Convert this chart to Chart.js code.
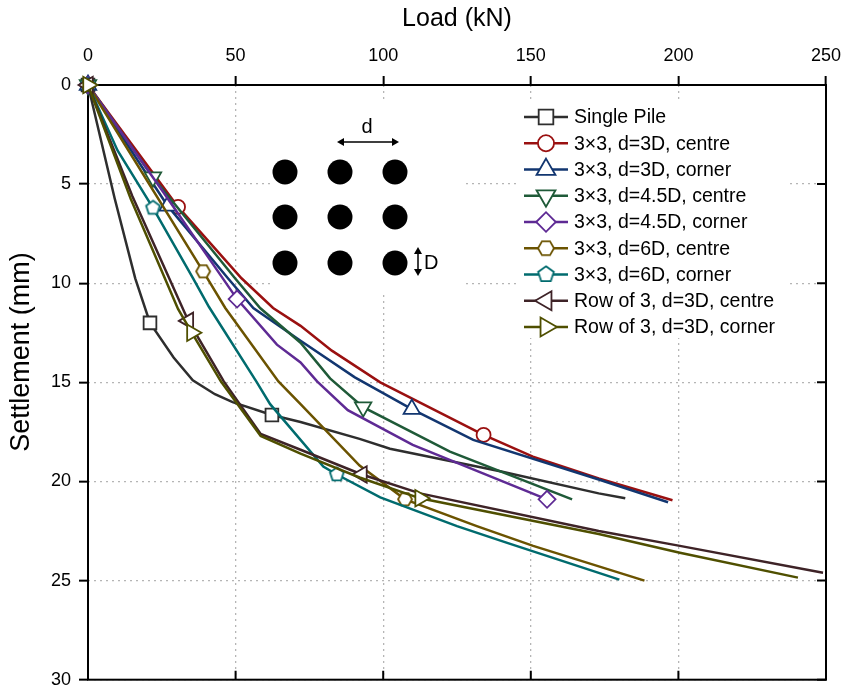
<!DOCTYPE html>
<html>
<head>
<meta charset="utf-8">
<script src="https://cdn.jsdelivr.net/npm/chart.js@4.4.1/dist/chart.umd.min.js"></script>
<style>
  html, body { margin: 0; padding: 0; background: #fff; }
</style>
</head>
<body>
<canvas id="chart" width="849" height="691"></canvas>
<script>
// axis ticks
const loadTicks = [0, 50, 100, 150, 200, 250];
const settleTicks = [0, 5, 10, 15, 20, 25, 30];

const seriesNames = [
  'Single Pile',
  '3×3, d=3D, centre',
  '3×3, d=3D, corner',
  '3×3, d=4.5D, centre',
  '3×3, d=4.5D, corner',
  '3×3, d=6D, centre',
  '3×3, d=6D, corner',
  'Row of 3, d=3D, centre',
  'Row of 3, d=3D, corner'
];

// load (kN) / settlement (mm)
const singleLoad   = [0, 9, 16, 21, 29, 35.5, 43, 49, 62.3, 72, 92, 102.3, 140, 173, 182];
const singleSettle = [0, 5.7, 9.75, 12, 13.75, 14.9, 15.6, 16, 16.65, 17, 17.85, 18.35, 19.5, 20.6, 20.85];

const d3CentreLoad   = [0, 30.5, 52, 62.7, 72, 82.6, 99, 134, 150.7, 173, 198];
const d3CentreSettle = [0, 6.15, 9.75, 11.25, 12.15, 13.4, 15, 17.65, 18.75, 19.85, 20.95];

const d3CornerLoad   = [0, 27, 47.4, 56, 72, 90.4, 109.7, 130.5, 173, 196.5];
const d3CornerSettle = [0, 6.1, 9.75, 11.25, 12.9, 14.75, 16.35, 17.9, 19.9, 21.05];

const d45CentreLoad   = [0, 22, 49.8, 58.3, 72, 82, 93.2, 122.6, 164];
const d45CentreSettle = [0, 4.65, 9.75, 11.25, 13.0, 14.8, 16.25, 18.5, 20.9];

const d45CornerLoad   = [0, 25, 50.5, 64, 72, 77.6, 88, 110, 134, 155.5];
const d45CornerSettle = [0, 5.3, 10.8, 13.1, 14.0, 14.95, 16.4, 18.15, 19.6, 20.9];

const d6CentreLoad   = [0, 39, 46.5, 64.5, 72, 92, 107.4, 131.7, 150.8, 188.5];
const d6CentreSettle = [0, 9.4, 11.25, 14.95, 16.1, 19.2, 20.9, 22.25, 23.25, 25];

const d6CornerLoad   = [0, 10, 22, 35.6, 41, 57, 61.7, 79.7, 84.3, 99, 125, 142, 180];
const d6CornerSettle = [0, 3.3, 6.2, 9.75, 11.2, 14.95, 16.1, 19.25, 19.65, 20.8, 22.25, 23.1, 24.95];

const rowCentreLoad   = [0, 15, 34, 46, 58.5, 72, 92.8, 112.5, 173, 200.5, 249];
const rowCentreSettle = [0, 5.6, 11.9, 14.95, 17.6, 18.4, 19.65, 20.6, 22.5, 23.25, 24.6];

const rowCornerLoad   = [0, 14.5, 30.5, 35.2, 45, 58.5, 72, 92, 112.5, 173, 200.5, 240.5];
const rowCornerSettle = [0, 5.75, 11.3, 12.5, 14.95, 17.7, 18.6, 19.8, 20.85, 22.65, 23.6, 24.85];

// which points carry a symbol
const markerIdx = [
  [0, 3, 8], [0, 1, 7], [0, 1, 6], [0, 1, 6], [0, 2, 9],
  [0, 1, 6], [0, 2, 8], [0, 2, 6], [0, 3, 8]
];

const loads = [singleLoad, d3CentreLoad, d3CornerLoad, d45CentreLoad, d45CornerLoad,
               d6CentreLoad, d6CornerLoad, rowCentreLoad, rowCornerLoad];
const settles = [singleSettle, d3CentreSettle, d3CornerSettle, d45CentreSettle, d45CornerSettle,
                 d6CentreSettle, d6CornerSettle, rowCentreSettle, rowCornerSettle];

const FONT = "'Liberation Sans', Arial, sans-serif";

function polyMarker(sides, r, color, rot) {
  const c = document.createElement('canvas');
  const s = Math.ceil(r * 2 + 4);
  c.width = c.height = s;
  const g = c.getContext('2d');
  g.beginPath();
  for (let i = 0; i < sides; i++) {
    const t = rot + i * 2 * Math.PI / sides;
    const px = s / 2 + r * Math.cos(t), py = s / 2 + r * Math.sin(t);
    if (i) g.lineTo(px, py); else g.moveTo(px, py);
  }
  g.closePath();
  g.fillStyle = '#fff';
  g.fill();
  g.lineWidth = 1.8;
  g.strokeStyle = color;
  g.stroke();
  return c;
}

const styles = [
  { color: '#2e2e2e', point: 'rect', rot: 0, r: 9 },
  { color: '#9a1010', point: 'circle', rot: 0, r: 7 },
  { color: '#123670', point: 'triangle', rot: 0, r: 9.5 },
  { color: '#1f5a38', point: 'triangle', rot: 180, r: 9.5 },
  { color: '#5e2a94', point: 'rectRot', rot: 0, r: 8.5 },
  { color: '#6b5300', point: null, rot: 0, r: 7 },
  { color: '#006b6e', point: null, rot: 0, r: 7 },
  { color: '#3e2327', point: 'triangle', rot: 270, r: 9.5 },
  { color: '#4f4f00', point: 'triangle', rot: 90, r: 9.5 }
];
styles[5].point = polyMarker(6, 7, styles[5].color, 0);
styles[6].point = polyMarker(5, 7.2, styles[6].color, -Math.PI / 2);
// legend symbols are drawn a bit larger
const legendHex = polyMarker(6, 8, styles[5].color, 0);
const legendPent = polyMarker(5, 8.2, styles[6].color, -Math.PI / 2);

const datasets = seriesNames.map((name, i) => ({
  label: name,
  data: loads[i].map((l, k) => ({ x: l, y: settles[i][k] })),
  borderColor: styles[i].color,
  borderWidth: 2.5,
  tension: 0,
  fill: false,
  clip: false,
  order: seriesNames.length - i,
  pointStyle: styles[i].point,
  rotation: styles[i].rot,
  pointRadius: ctx => markerIdx[i].includes(ctx.dataIndex) ? styles[i].r : 0,
  pointBackgroundColor: '#fff',
  pointBorderColor: styles[i].color,
  pointBorderWidth: 1.8
}));

const overlay = {
  id: 'overlay',
  beforeDatasetsDraw(chart) {
    const { ctx, chartArea: a, scales: { x, y } } = chart;
    ctx.save();

    // y axis title (sits above the axis centre in the original)
    ctx.save();
    ctx.translate(22, 352);
    ctx.rotate(-Math.PI / 2);
    ctx.font = '27px ' + FONT;
    ctx.fillStyle = '#000';
    ctx.textAlign = 'center';
    ctx.textBaseline = 'middle';
    ctx.fillText('Settlement (mm)', 0, 0);
    ctx.restore();

    // pile group sketch
    ctx.fillStyle = '#fff';
    ctx.fillRect(270, 103, 195, 189);
    ctx.fillStyle = '#000';
    [285, 340, 395].forEach(cx => {
      [172, 217, 263].forEach(cy => {
        ctx.beginPath();
        ctx.arc(cx, cy, 12.5, 0, Math.PI * 2);
        ctx.fill();
      });
    });
    ctx.strokeStyle = '#000';
    ctx.lineWidth = 1.5;
    ctx.beginPath();
    ctx.moveTo(343, 142); ctx.lineTo(393, 142);
    ctx.moveTo(418, 253); ctx.lineTo(418, 270);
    ctx.stroke();
    const head = (x0, y0, dx, dy) => {
      ctx.beginPath();
      ctx.moveTo(x0, y0);
      ctx.lineTo(x0 - dx * 7 - dy * 4, y0 - dy * 7 - dx * 4);
      ctx.lineTo(x0 - dx * 7 + dy * 4, y0 - dy * 7 + dx * 4);
      ctx.closePath();
      ctx.fill();
    };
    head(337, 142, -1, 0); head(399, 142, 1, 0);
    head(418, 247, 0, -1); head(418, 276, 0, 1);
    ctx.font = '20px ' + FONT;
    ctx.textBaseline = 'middle';
    ctx.textAlign = 'center';
    ctx.fillText('d', 367, 127);
    ctx.textAlign = 'left';
    ctx.fillText('D', 424, 263);

    // legend
    ctx.fillStyle = '#fff';
    ctx.fillRect(520, 103, 266, 235);
    ctx.font = '19.5px ' + FONT;
    seriesNames.forEach((name, i) => {
      const ly = 117 + i * 26.25;
      const st = styles[i];
      ctx.strokeStyle = st.color;
      ctx.lineWidth = 2.5;
      ctx.beginPath();
      ctx.moveTo(524, ly); ctx.lineTo(568, ly);
      ctx.stroke();
      ctx.fillStyle = '#fff';
      ctx.lineWidth = 1.8;
      let ps = st.point;
      if (i === 5) ps = legendHex;
      if (i === 6) ps = legendPent;
      Chart.helpers.drawPoint(ctx, { pointStyle: ps, rotation: st.rot, radius: st.r * 1.15, borderWidth: 1.8 }, 546, ly);
      ctx.fillStyle = '#000';
      ctx.fillText(name, 574, ly + 1);
    });

    // frame and inward ticks on bottom / right
    ctx.strokeStyle = '#000';
    ctx.lineWidth = 2;
    ctx.strokeRect(a.left, a.top, a.right - a.left, a.bottom - a.top);
    ctx.beginPath();
    loadTicks.forEach(v => {
      const px = x.getPixelForValue(v);
      ctx.moveTo(px, a.bottom); ctx.lineTo(px, a.bottom - 9);
    });
    settleTicks.forEach(v => {
      const py = y.getPixelForValue(v);
      ctx.moveTo(a.right, py); ctx.lineTo(a.right - 9, py);
    });
    ctx.stroke();
    ctx.restore();
  }
};

const gridOpts = {
  color: '#b5b5b5',
  lineWidth: 1.3,
  tickColor: '#000',
  tickWidth: 2,
  tickLength: 9,
  tickBorderDash: []
};

new Chart(document.getElementById('chart'), {
  type: 'line',
  data: { datasets: datasets },
  options: {
    responsive: false,
    animation: false,
    events: [],
    layout: { padding: { top: 0, left: 0, right: 23, bottom: 6 } },
    plugins: { legend: { display: false }, tooltip: { enabled: false } },
    scales: {
      x: {
        type: 'linear',
        position: 'top',
        min: 0, max: 250,
        afterBuildTicks: s => { s.ticks = loadTicks.map(v => ({ value: v })); },
        ticks: { color: '#000', font: { family: "'Liberation Sans Narrow', " + FONT, size: 18 }, padding: 9, maxRotation: 0 },
        grid: gridOpts,
        border: { display: false, dash: [2, 4] },
        title: { display: true, text: 'Load (kN)', color: '#000', font: { family: FONT, size: 25 }, padding: { top: 4, bottom: 0 } },
        afterFit: s => { s.height = 85; s.paddingLeft = 0; s.paddingRight = 0; }
      },
      y: {
        type: 'linear',
        position: 'left',
        reverse: true,
        min: 0, max: 30,
        afterBuildTicks: s => { s.ticks = settleTicks.map(v => ({ value: v })); },
        ticks: { color: '#000', font: { family: "'Liberation Sans Narrow', " + FONT, size: 18 }, padding: 8 },
        grid: gridOpts,
        border: { display: false, dash: [2, 4] },
        title: { display: false },
        afterFit: s => { s.width = 88; s.paddingTop = 0; s.paddingBottom = 0; }
      }
    }
  },
  plugins: [overlay]
});
</script>
</body>
</html>
